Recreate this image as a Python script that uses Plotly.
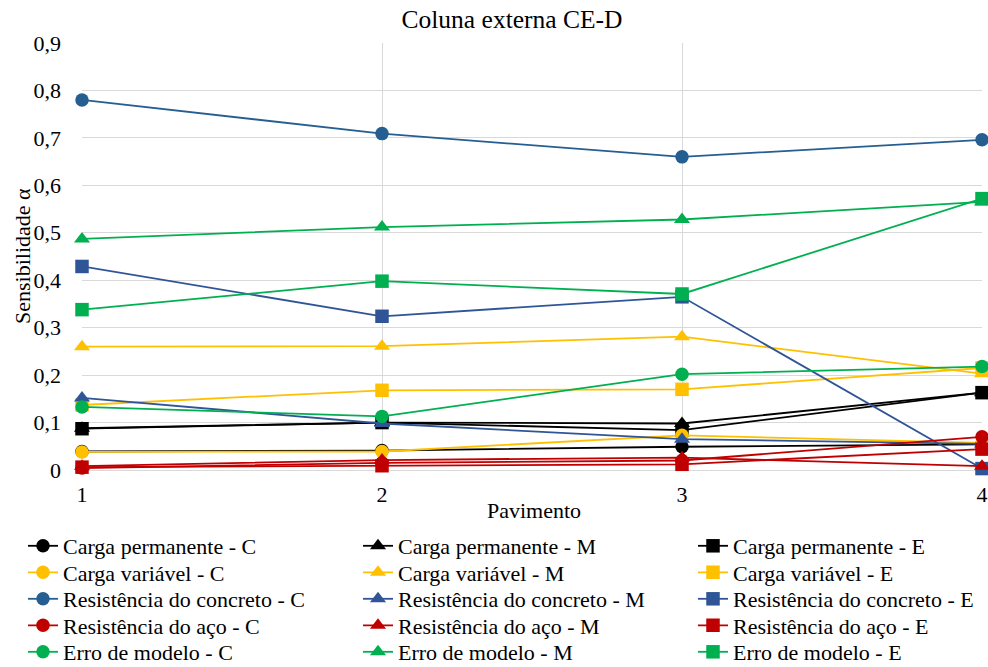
import plotly.graph_objects as go

pavimento = [1, 2, 3, 4]

cp_C = [0.039, 0.041, 0.049, 0.054]
cp_M = [0.088, 0.100, 0.098, 0.163]
cp_E = [0.087, 0.100, 0.084, 0.163]
cv_C = [0.038, 0.039, 0.073, 0.057]
cv_M = [0.260, 0.261, 0.281, 0.203]
cv_E = [0.137, 0.168, 0.170, 0.215]
rc_C = [0.780, 0.709, 0.660, 0.696]
rc_M = [0.152, 0.098, 0.065, 0.055]
rc_E = [0.429, 0.324, 0.365, 0.003]
ra_C = [0.004, 0.015, 0.020, 0.070]
ra_M = [0.008, 0.021, 0.026, 0.008]
ra_E = [0.006, 0.009, 0.012, 0.044]
em_C = [0.133, 0.113, 0.202, 0.218]
em_M = [0.487, 0.512, 0.528, 0.565]
em_E = [0.338, 0.398, 0.371, 0.572]

names = ["Carga permanente", "Carga variável", "Resistência do concreto",
         "Resistência do aço", "Erro de modelo"]
cases = ["C", "M", "E"]
series = {
    "C": [cp_C, cv_C, rc_C, ra_C, em_C],
    "M": [cp_M, cv_M, rc_M, ra_M, em_M],
    "E": [cp_E, cv_E, rc_E, ra_E, em_E],
}
colors = {
    "C": ["#000000", "#FFC000", "#255E91", "#C00000", "#00B050"],
    "M": ["#000000", "#FFC000", "#2F5597", "#C00000", "#00B050"],
    "E": ["#000000", "#FFC000", "#2F5597", "#C00000", "#00B050"],
}
symbols = {"C": "circle", "M": "triangle-up", "E": "square"}

FONT = "Liberation Serif"

# layout geometry (pixels)
W, H = 988, 667
ML, MR, MT, MB = 82, 6, 43, 197
PW, PH = W - ML - MR, H - MT - MB
col_text_x = [63, 398, 733]          # left edge of legend text per column
row_center_y = [546, 572.5, 599, 625.5, 652]

def px_to_paper_x(px):
    return (px - ML) / PW

def px_to_paper_y(py):
    return (H - MB - py) / PH

fig = go.Figure()
legend_layouts = {}
n = 0
for i, nm in enumerate(names):
    for j, k in enumerate(cases):
        n += 1
        lid = "legend" if n == 1 else f"legend{n}"
        fig.add_trace(go.Scatter(
            x=pavimento, y=series[k][i], mode="lines+markers",
            name=f"{nm} - {k}",
            line=dict(color=colors[k][i], width=1.8),
            marker=dict(symbol=symbols[k], color=colors[k][i], size=13.5 if k != "M" else 14),
            cliponaxis=False,
            showlegend=True,
            legend=lid,
        ))
        legend_layouts[lid] = dict(
            x=px_to_paper_x(col_text_x[j] - 40), y=px_to_paper_y(row_center_y[i]),
            xanchor="left", yanchor="middle",
            font=dict(family=FONT, size=22, color="#000000"),
            bgcolor="rgba(0,0,0,0)", borderwidth=0, visible=True,
        )

fig.update_layout(
    width=W, height=H,
    showlegend=True,
    margin=dict(l=ML, r=MR, t=MT, b=MB, autoexpand=False),
    paper_bgcolor="white", plot_bgcolor="white",
    separators=",.",
    font=dict(family=FONT, size=22, color="#000000"),
    title=dict(text="Coluna externa CE-D", x=px_to_paper_x(512), xref="paper", xanchor="center",
               y=1 - 19 / H, yref="container", yanchor="middle",
               font=dict(family=FONT, size=25.5, color="#000000")),
    xaxis=dict(range=[1, 4], dtick=1, tick0=1, showgrid=True, gridcolor="#D9D9D9",
               gridwidth=1.3, zeroline=False, showline=False, ticks="",
               tickfont=dict(family=FONT, size=22), ticklabelstandoff=9),
    yaxis=dict(range=[0, 0.9], dtick=0.1, tick0=0, showgrid=True, gridcolor="#D9D9D9",
               gridwidth=1.3, zeroline=True, zerolinecolor="#D9D9D9", zerolinewidth=1.3,
               showline=False, ticks="", tickfont=dict(family=FONT, size=22),
               ticklabelstandoff=20),
    annotations=[
        dict(text="Pavimento", x=px_to_paper_x(534), y=px_to_paper_y(510),
             xref="paper", yref="paper", xanchor="center", yanchor="middle",
             showarrow=False, font=dict(family=FONT, size=22, color="#000000")),
        dict(text="Sensibilidade α", x=px_to_paper_x(22), y=px_to_paper_y(256),
             xref="paper", yref="paper", xanchor="center", yanchor="middle", textangle=-90,
             showarrow=False, font=dict(family=FONT, size=22, color="#000000")),
    ],
    **legend_layouts,
)

fig.write_html("out.html")
